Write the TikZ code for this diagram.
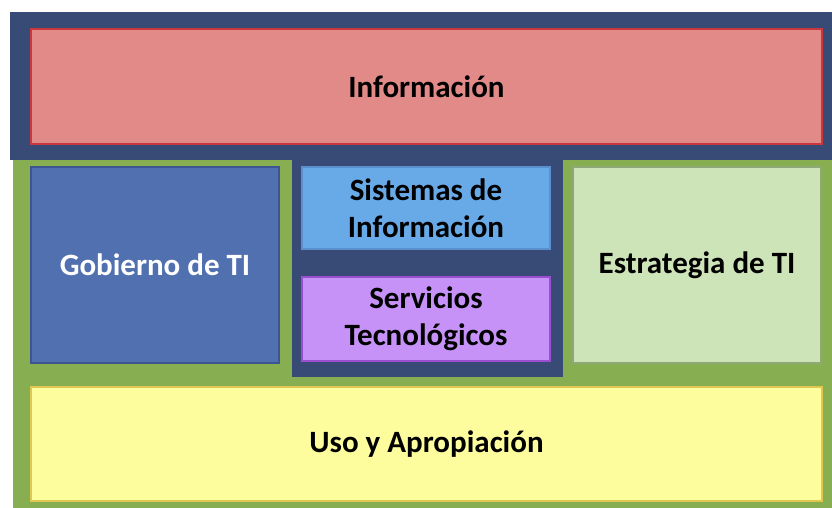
\documentclass[tikz,border=0pt]{standalone}
\usepackage{fontspec}
\setmainfont{Carlito}
\definecolor{navy}{HTML}{374B76}
\definecolor{grn}{HTML}{87AE50}
\definecolor{pinkf}{HTML}{E28A88}
\definecolor{pinkd}{HTML}{C8383C}
\definecolor{bluef}{HTML}{5170B0}
\definecolor{blued}{HTML}{3D5590}
\definecolor{skyf}{HTML}{68A9E8}
\definecolor{skyd}{HTML}{5A90CC}
\definecolor{lilf}{HTML}{C692F8}
\definecolor{lild}{HTML}{9A4FD0}
\definecolor{mintf}{HTML}{CDE3B8}
\definecolor{mintd}{HTML}{8FA878}
\definecolor{yelf}{HTML}{FDFD9E}
\definecolor{yeld}{HTML}{E0C850}
\tikzset{
  box/.style={line width=1.2pt, inner sep=0pt, align=center,
    font=\fontsize{31}{37}\selectfont\bfseries}
}
\begin{document}
\begin{tikzpicture}[x=1pt,y=-1pt]
\useasboundingbox (0,0) rectangle (832,508);
\fill[white] (0,0) rectangle (832,508);
% green background region
\fill[grn] (13,159) rectangle (832,508);
% navy regions
\fill[navy] (10,12) rectangle (832,160);
\fill[navy] (292,159) rectangle (563,377);
% boxes
\draw[box, draw=pinkd, fill=pinkf] (31,29) rectangle (822,144)
  node[midway] (info) {Información};
\draw[box, draw=blued, fill=bluef, text=white] (31,167) rectangle (279,363)
  node[midway] (gob) {Gobierno de TI};
\draw[box, draw=skyd, fill=skyf] (302,167) rectangle (550,249)
  node[midway] (sis) {Sistemas de\\Información};
\draw[box, draw=lild, fill=lilf] (302,277) rectangle (550,361)
  node[midway] (serv) {Servicios\\Tecnológicos};
\draw[box, draw=mintd, fill=mintf] (573,167) rectangle (821,363)
  node[midway] (est) {Estrategia de TI};
\draw[box, draw=yeld, fill=yelf] (31,387) rectangle (822,501)
  node[midway] (uso) {Uso y Apropiación};
\end{tikzpicture}
\end{document}
